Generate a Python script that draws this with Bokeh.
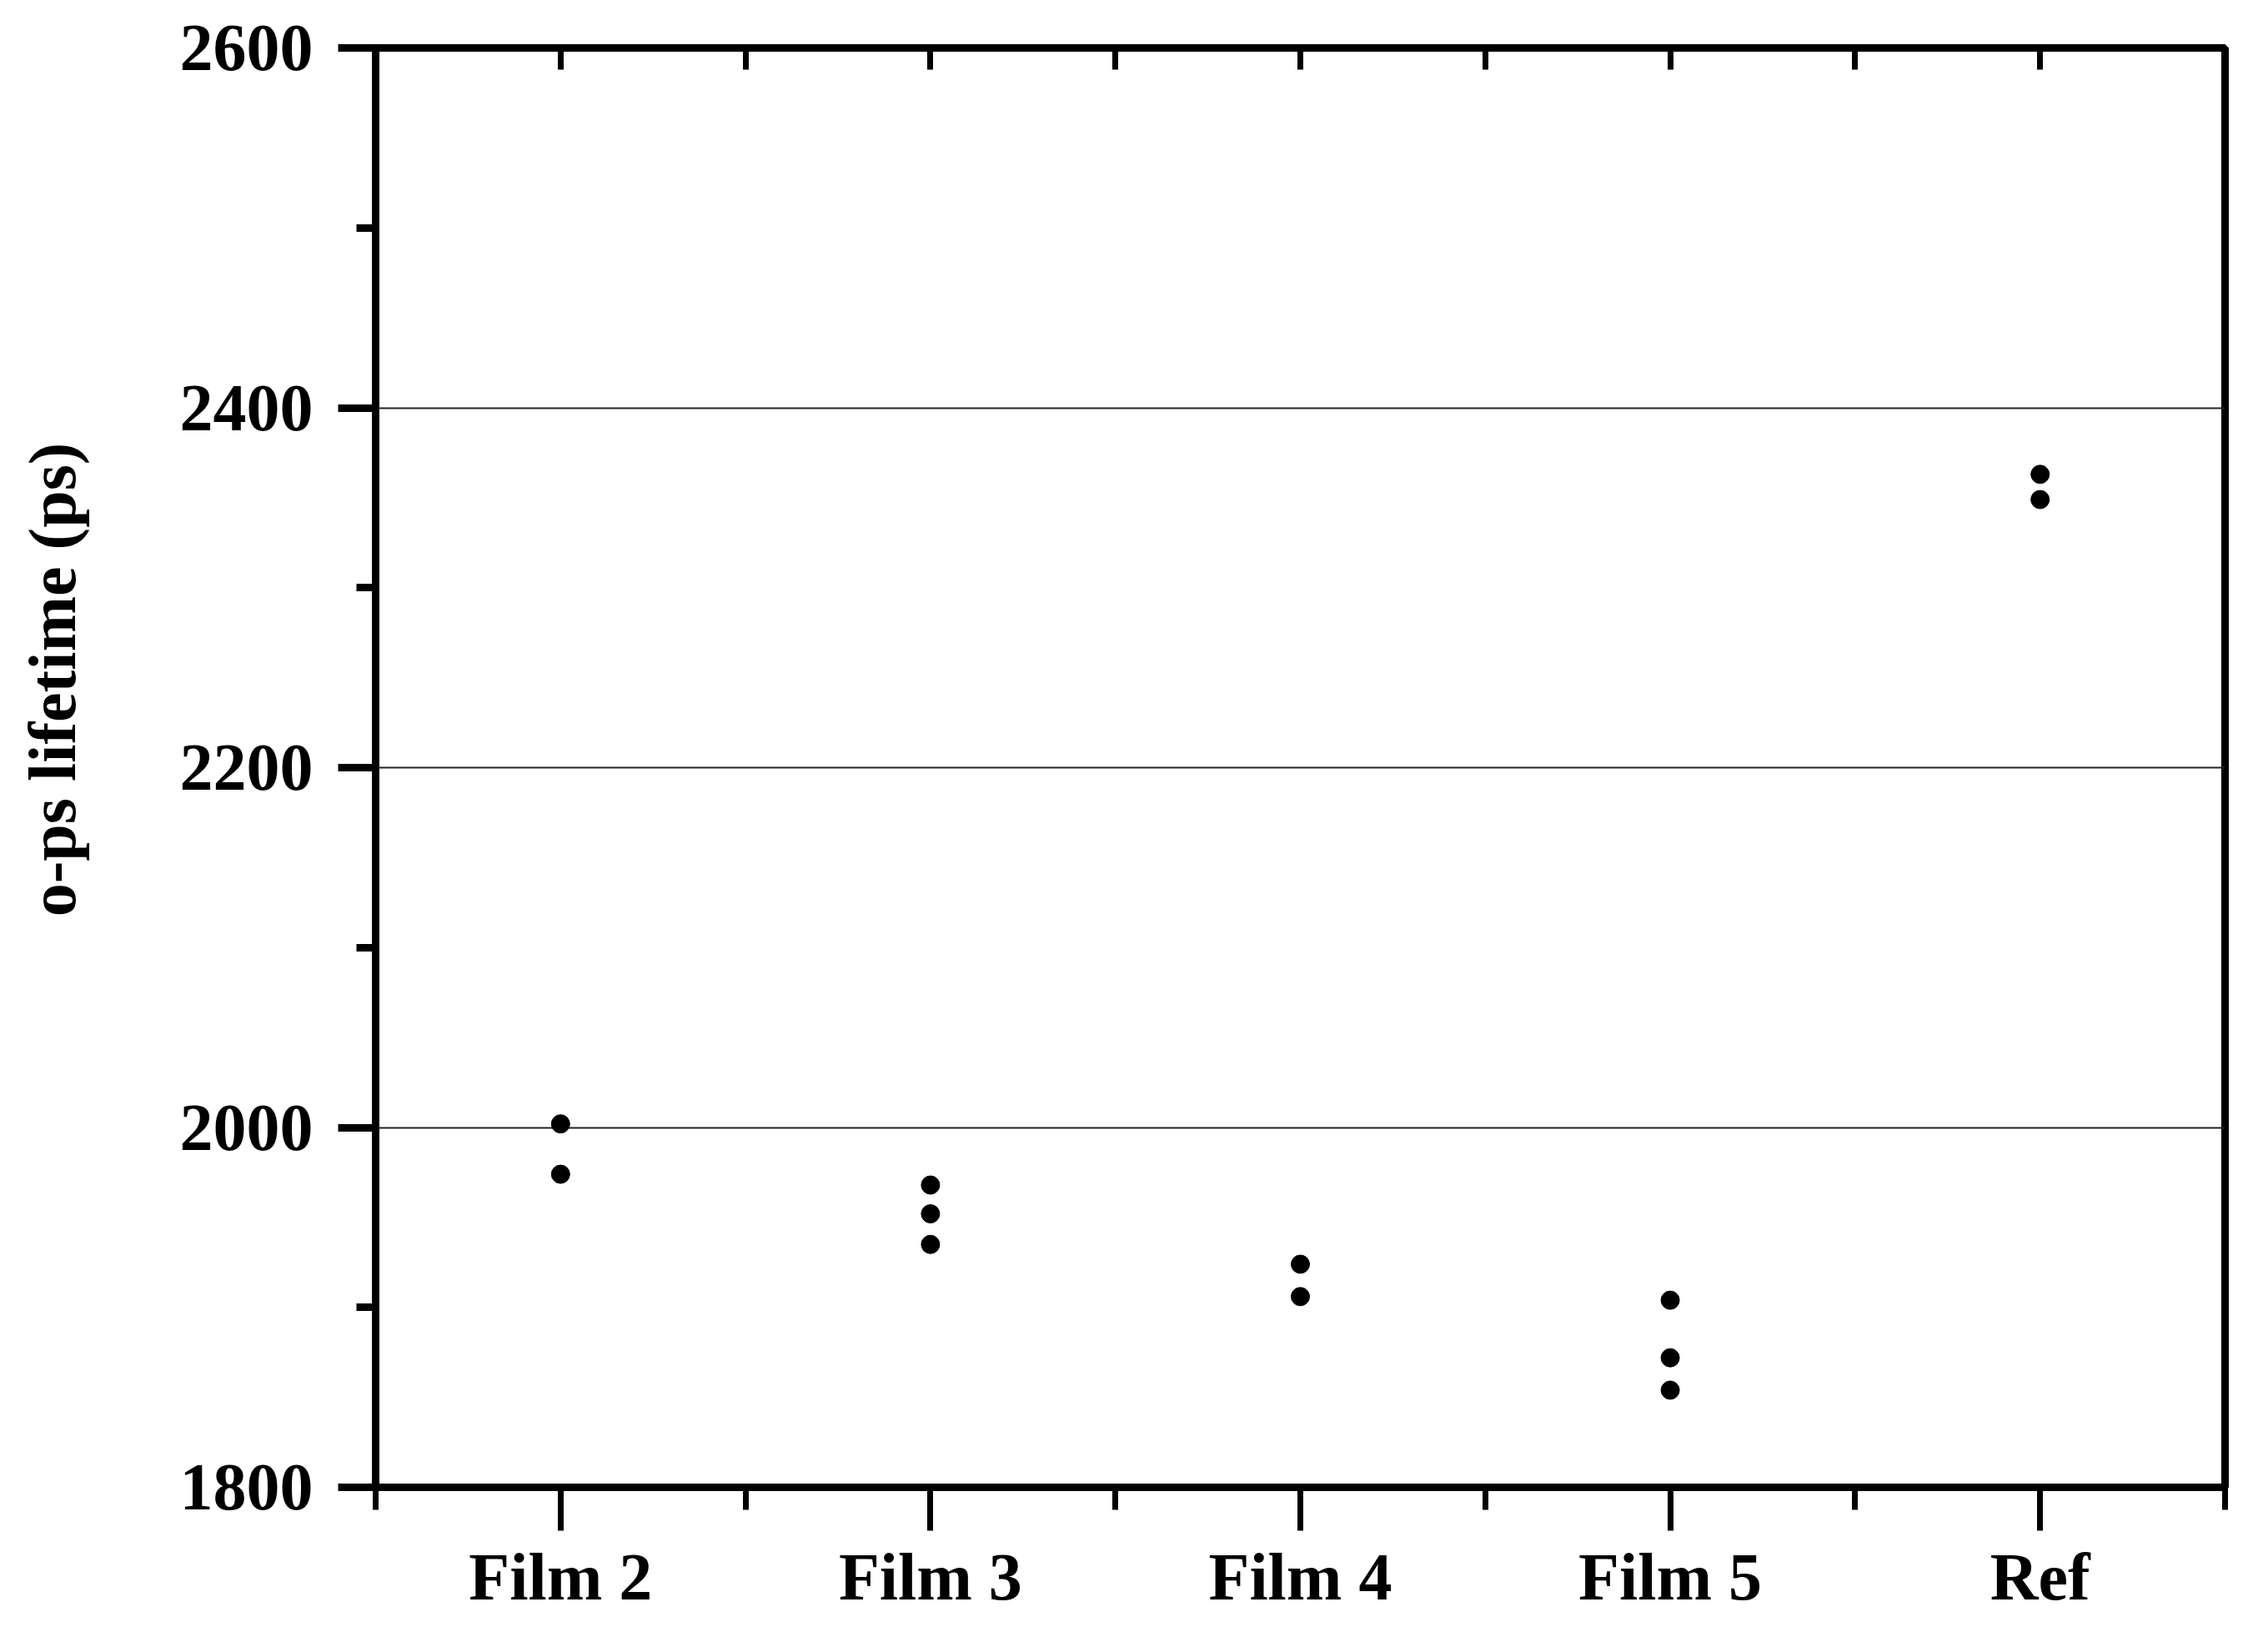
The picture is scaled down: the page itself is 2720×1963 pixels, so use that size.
import math
from bokeh.plotting import figure
from bokeh.models import LinearAxis, FixedTicker, Range1d, Title, Grid
from bokeh.embed import file_html
from bokeh.resources import INLINE

# ---- data ----
categories = ["Film 2", "Film 3", "Film 4", "Film 5", "Ref"]
film2 = [2002, 1974]
film3 = [1968, 1952, 1935]
film4 = [1924, 1906]
film5 = [1904, 1872, 1854]
ref = [2363, 2349]
series = [film2, film3, film4, film5, ref]

y_ticks = [1800, 2000, 2200, 2400, 2600]
y_minor = [1900, 2100, 2300, 2500]
grid_vals = [2000, 2200, 2400]
y_label = "o-ps lifetime (ps)"

FONT = "Liberation Serif"
FS = "80px"
LW = 9

xs, ys = [], []
for i, vals in enumerate(series):
    for v in vals:
        xs.append(i + 1)
        ys.append(v)

p = figure(width=2700, height=1940,
           x_range=Range1d(0.5, 5.5), y_range=Range1d(1800, 2600),
           output_backend="svg", toolbar_location=None,
           x_axis_location=None, y_axis_location=None,
           min_border_left=450, min_border_right=32,
           min_border_top=57, min_border_bottom=157)
p.background_fill_color = "white"
p.border_fill_color = "white"
p.outline_line_color = "black"
p.outline_line_width = LW
for g in list(p.grid):
    g.visible = False

# horizontal grid lines
grid = Grid(dimension=1, ticker=FixedTicker(ticks=grid_vals),
            grid_line_color="#222222", grid_line_width=2)
p.add_layout(grid)

# left axis
ly = LinearAxis(ticker=FixedTicker(ticks=y_ticks, minor_ticks=y_minor))
ly.axis_line_width = LW
ly.major_tick_line_width = LW
ly.minor_tick_line_width = LW
ly.major_tick_out = 45
ly.major_tick_in = 0
ly.minor_tick_out = 23
ly.minor_tick_in = 0
ly.major_label_standoff = 30
ly.major_label_text_font = FONT
ly.major_label_text_font_style = "bold"
ly.major_label_text_font_size = FS
ly.major_label_text_color = "black"
p.add_layout(ly, "left")

# empty spacer between the tick labels and the axis title
spacer = LinearAxis(ticker=FixedTicker(ticks=[2200], minor_ticks=[]))
spacer.major_label_overrides = {2200: ""}
spacer.major_label_text_font_size = "1px"
spacer.axis_line_color = None
spacer.major_tick_line_color = None
spacer.minor_tick_line_color = None
spacer.major_tick_out = 90
spacer.major_tick_in = 0
spacer.minor_tick_out = 0
spacer.minor_tick_in = 0
spacer.major_label_standoff = 0
p.add_layout(spacer, "left")

# bottom axis
cat_pos = [i + 1 for i in range(len(categories))]
bx = LinearAxis(ticker=FixedTicker(ticks=cat_pos,
                                   minor_ticks=[c - 0.5 for c in cat_pos] + [cat_pos[-1] + 0.5]))
bx.major_label_overrides = {c: name for c, name in zip(cat_pos, categories)}
bx.axis_line_width = LW
bx.major_tick_line_width = 7
bx.minor_tick_line_width = 7
bx.major_tick_out = 52
bx.major_tick_in = 0
bx.minor_tick_out = 27
bx.minor_tick_in = 0
bx.major_label_standoff = 11
bx.major_label_text_font = FONT
bx.major_label_text_font_style = "bold"
bx.major_label_text_font_size = FS
bx.major_label_text_color = "black"
p.add_layout(bx, "below")

# top axis (ticks only, pointing inward)
tx = LinearAxis(ticker=FixedTicker(ticks=cat_pos,
                                   minor_ticks=[c + 0.5 for c in cat_pos[:-1]]))
tx.major_label_overrides = {c: "" for c in cat_pos}
tx.major_label_text_font_size = "1px"
tx.major_label_standoff = 0
tx.axis_line_width = LW
tx.major_tick_line_width = 7
tx.minor_tick_line_width = 7
tx.major_tick_in = 26
tx.major_tick_out = 0
tx.minor_tick_in = 26
tx.minor_tick_out = 0
p.add_layout(tx, "above")

# data points
p.scatter(xs, ys, size=22, color="black", marker="circle")

# y axis label (placed above centre, as in the reference)
t = Title(text=y_label, align="right", offset=473, standoff=28,
          vertical_align="top",
          text_font=FONT, text_font_style="bold", text_font_size=FS,
          text_color="black")
p.add_layout(t, "left")

open("out.html", "w").write(file_html(p, INLINE))
